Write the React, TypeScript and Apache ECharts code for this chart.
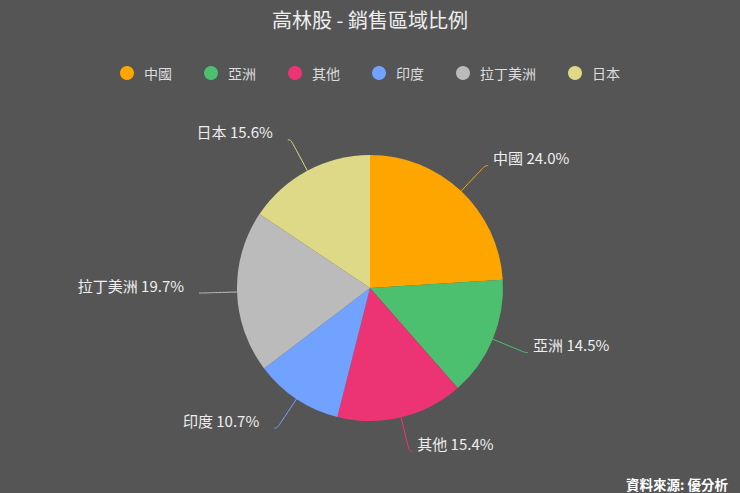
import React, { useEffect, useRef } from "react";
import * as echarts from "echarts";

const categories = ["中國", "亞洲", "其他", "印度", "拉丁美洲", "日本"];
const values = [24.0, 14.5, 15.4, 10.7, 19.7, 15.6];
const colors = ["#FFA500", "#4CC06F", "#EC3475", "#72A2FF", "#BBBBBB", "#DDD987"];
const leftSide = ["印度", "拉丁美洲", "日本"];
const titleText = "高林股 - 銷售區域比例";
const sourceText = "資料來源: 優分析";

export default function App() {
  const ref = useRef<HTMLDivElement>(null);
  useEffect(() => {
    document.body.style.margin = "0";
    const chart = echarts.init(ref.current!, null, { renderer: "svg" });
    const font = "'Noto Sans CJK TC', 'Noto Sans', sans-serif";
    chart.setOption({
      animation: false,
      backgroundColor: "#555555",
      color: colors,
      textStyle: { fontFamily: font },
      title: {
        text: titleText,
        left: "center",
        top: 4,
        textStyle: { color: "#eeeeee", fontSize: 20, fontWeight: "normal", fontFamily: font },
      },
      legend: {
        top: 61,
        left: "center",
        icon: "circle",
        itemWidth: 14,
        itemHeight: 14,
        itemGap: 32,
        textStyle: { color: "#dddddd", fontSize: 14, fontFamily: font, padding: [0, 0, 0, 5] },
        data: categories,
      },
      graphic: [
        {
          type: "text",
          right: 12,
          bottom: 2,
          style: { text: sourceText, fill: "#ffffff", fontSize: 13.5, fontFamily: font, fontWeight: "bold" },
        },
      ],
      series: [
        {
          type: "pie",
          center: [370, 288],
          radius: 133,
          startAngle: 90,
          clockwise: true,
          data: categories.map((c, i) => ({
            name: c,
            value: values[i],
            label: { padding: leftSide.includes(c) ? [0, 10, 0, 0] : [0, 0, 0, 0] },
          })),
          label: {
            color: "#eeeeee",
            fontSize: 15,
            lineHeight: 18,
            fontFamily: font,
            formatter: (p: any) => `${p.name} ${Number(p.value).toFixed(1)}%\n{s| }`,
            rich: { s: { fontSize: 1, lineHeight: 16 } },
          },
          labelLine: { length: 35, length2: 3, smooth: 0.5 },
          itemStyle: { borderWidth: 0 },
        },
      ],
    });
    return () => chart.dispose();
  }, []);
  return <div ref={ref} style={{ width: 740, height: 493 }} />;
}
